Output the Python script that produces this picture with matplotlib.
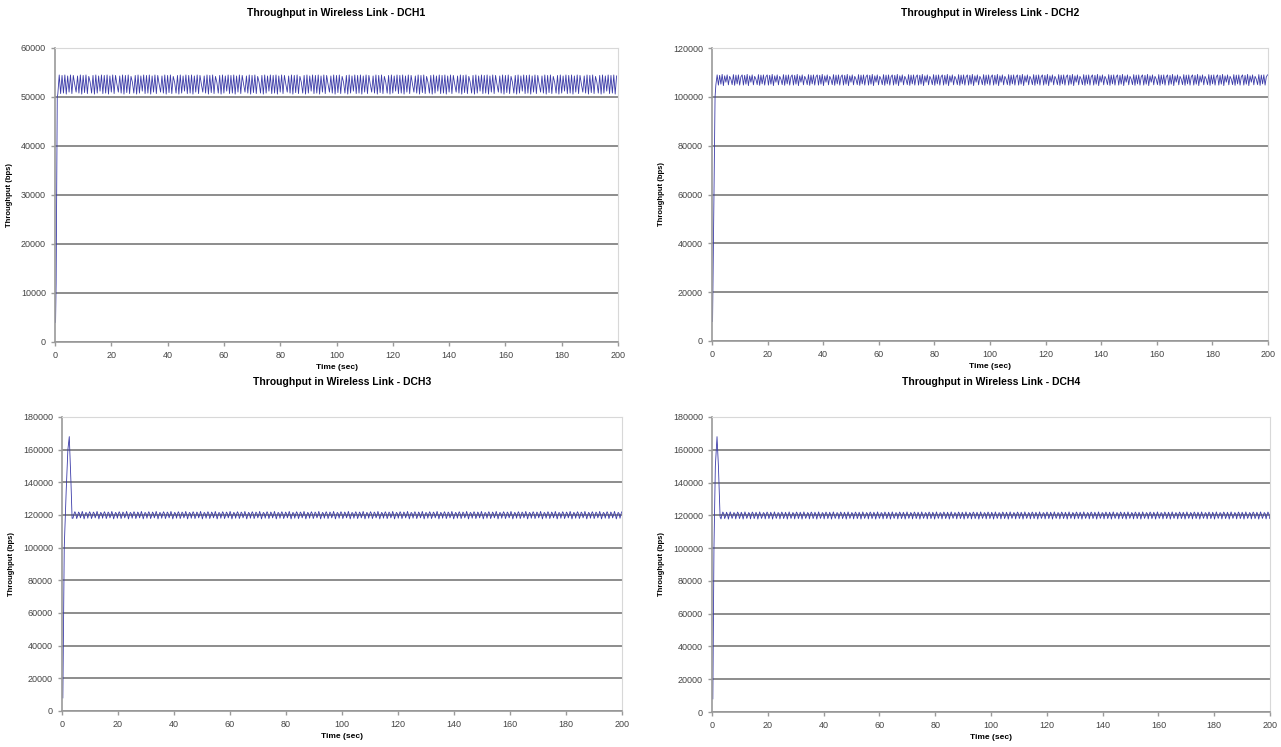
import matplotlib
matplotlib.use("Agg")
import matplotlib.pyplot as plt
import numpy as np

plt.rcParams['font.family'] = ['Liberation Sans', 'DejaVu Sans']

# start-up part of each trace (time in sec, throughput in bps)
dch1_ramp_t = [0.2, 0.4, 0.6, 0.8, 1.0]
dch1_ramp_v = [4000, 12000, 30000, 50000, 50600]
dch2_ramp_t = [0.2, 0.5, 0.8, 1.1, 1.4]
dch2_ramp_v = [8000, 40000, 75000, 100000, 105000]
dch3_ramp_t = [0.3, 0.8, 1.5, 2.1, 2.6, 3.2, 3.6]
dch3_ramp_v = [8000, 100000, 135000, 160000, 168000, 140000, 118000]
dch4_ramp_t = [0.3, 0.7, 1.2, 1.8, 2.3, 2.9]
dch4_ramp_v = [8000, 100000, 150000, 168000, 150000, 119000]

# steady-state oscillation, one repeating stretch each
dch1_cycle = [54500, 50700, 54400, 50800, 54500, 50600, 54300, 51000, 54500, 50700,
              54400, 52600, 51000, 54300, 50800, 54500, 50600, 54400, 50900, 54500,
              50700, 54200, 53000, 50800, 54400, 50600, 54500, 50800, 54300, 51200]
dch2_cycle = [109000, 104800, 108800, 105200, 109200, 104600, 108600, 106000, 109000, 104900,
              108400, 107200, 105000, 109100, 104700, 108900, 105300, 109000, 104800, 108200]
dch3_cycle = [118000, 120500, 122000, 120800, 117800, 119500, 121800, 121000, 118200, 120000,
              122200, 120300, 117600, 119800, 121600, 120900]
dch4_cycle = [117800, 120300, 122000, 121000, 118000, 119600, 121900, 120600, 117700, 120100,
              122100, 120400, 118100, 119700, 121700, 121100]

titles = ["Throughput in Wireless Link - DCH1", "Throughput in Wireless Link - DCH2",
          "Throughput in Wireless Link - DCH3", "Throughput in Wireless Link - DCH4"]
y_max = [60000, 120000, 180000, 180000]
y_step = [10000, 20000, 20000, 20000]


def build(ramp_t, ramp_v, cycle, dt):
    t_steady = np.arange(ramp_t[-1] + dt, 200.0, dt)
    reps = int(np.ceil(len(t_steady) / len(cycle)))
    v_steady = np.tile(cycle, reps)[:len(t_steady)]
    return np.concatenate([ramp_t, t_steady]), np.concatenate([ramp_v, v_steady])


series = [build(dch1_ramp_t, dch1_ramp_v, dch1_cycle, 0.5),
          build(dch2_ramp_t, dch2_ramp_v, dch2_cycle, 0.45),
          build(dch3_ramp_t, dch3_ramp_v, dch3_cycle, 0.33),
          build(dch4_ramp_t, dch4_ramp_v, dch4_cycle, 0.33)]

W, H = 1281, 747
fig = plt.figure(figsize=(W / 100, H / 100), dpi=100)
# axes boxes in pixels: left, top, right, bottom
boxes = [(55, 48, 618, 342), (712, 48, 1268, 341), (62, 417, 622, 711), (712, 417, 1270, 712)]

for i, (l, t, r, b) in enumerate(boxes):
    ax = fig.add_axes([l / W, 1 - b / H, (r - l) / W, (b - t) / H])
    x, y = series[i]
    ax.plot(x, y, color='#3a3aa8', lw=0.6)
    ax.set_xlim(0, 200)
    ax.set_ylim(0, y_max[i])
    ax.set_xticks(range(0, 201, 20))
    ax.set_yticks(range(0, y_max[i] + 1, y_step[i]))
    ax.yaxis.grid(True, color='#6e6e6e', lw=1.1)
    ax.set_axisbelow(True)
    for s in ['left', 'bottom']:
        ax.spines[s].set_color('#9a9a9a')
        ax.spines[s].set_linewidth(1.2)
    for s in ['top', 'right']:
        ax.spines[s].set_color('#d8d8d8')
    ax.tick_params(labelsize=6.5, colors='#9a9a9a', labelcolor='#444444', length=3, width=1)
    ax.set_title(titles[i], fontsize=7.5, fontweight='bold', pad=23)
    ax.set_xlabel("Time (sec)", fontsize=6, fontweight='bold', labelpad=3)
    ax.set_ylabel("Throughput (bps)", fontsize=5.5, fontweight='bold', labelpad=6)

fig.savefig("out.png", dpi=100)
